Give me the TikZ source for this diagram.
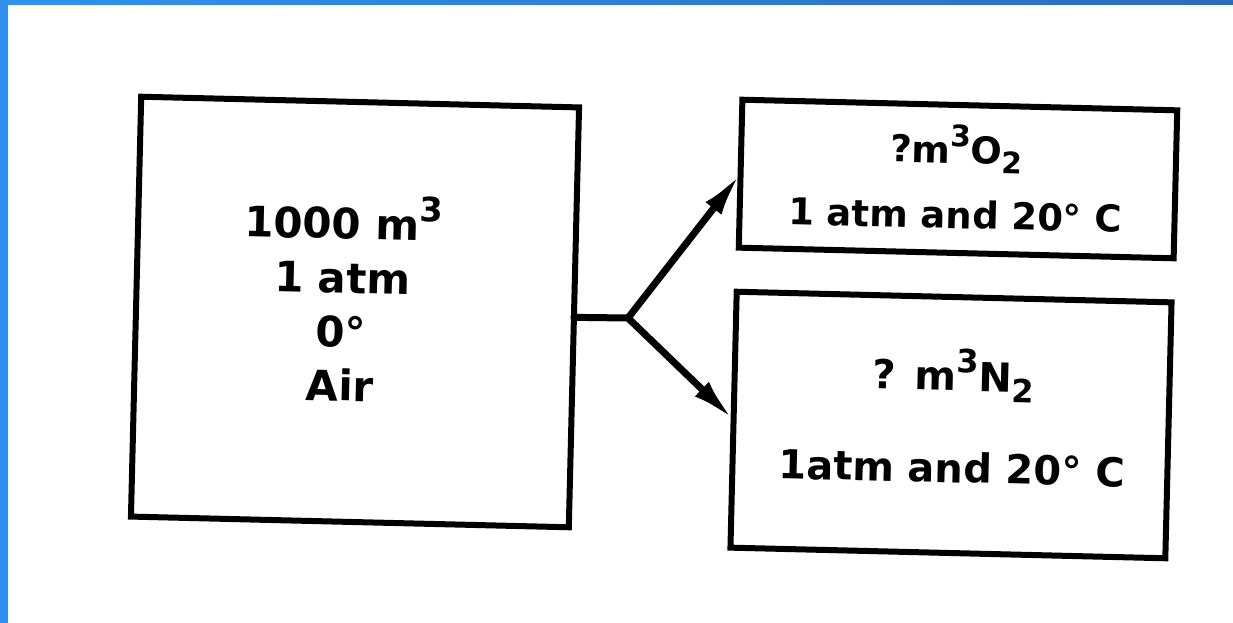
\documentclass[tikz,border=0pt]{standalone}
\usepackage{fontspec}
\setmainfont{DejaVu Sans}
\usepackage{tikz}
\usetikzlibrary{arrows.meta}
\definecolor{framelight}{RGB}{50,145,240}
\definecolor{framedark}{RGB}{42,108,186}
\newcommand{\supx}[1]{\raisebox{0.45em}{\fontsize{0.8em}{1em}\selectfont #1}}
\newcommand{\subx}[1]{\raisebox{-0.25em}{\fontsize{0.8em}{1em}\selectfont #1}}
\tikzset{
  box/.style={rectangle, draw=black, line width=6pt, inner sep=0pt,
    outer sep=0pt, rotate=-1.4},
  airbox/.style={box, minimum width=438pt, minimum height=420pt},
  oxybox/.style={box, minimum width=435pt, minimum height=148pt},
  nitbox/.style={box, minimum width=435pt, minimum height=256pt},
  boxtext/.style={align=center, inner sep=0pt, rotate=-1.4},
  airtext/.style={boxtext, font=\fontsize{42}{54}\bfseries\selectfont},
  oxytext/.style={boxtext, font=\fontsize{37}{65}\bfseries\selectfont},
  nittext/.style={boxtext, font=\fontsize{40}{92}\bfseries\selectfont},
  stub/.style={line width=7pt, line cap=round},
  arrow/.style={-{Latex[length=44pt, width=20pt]}, line width=7pt},
}
\begin{document}
\begin{tikzpicture}[x=1pt, y=-1pt]

  \useasboundingbox (0,0) rectangle (1233,623);

  %% ── frame ───────────────────────────────────────────────────
  \shade[left color=framelight, right color=framedark] (0,0) rectangle (1233,5);
  \fill[framelight] (0,0) rectangle (8,623);

  %% ── feed ────────────────────────────────────────────────────
  \node[airbox] (air) at (355,312) {};
  \node[airtext] (airtxt) at ([shift={(-13,-14)}]air.center)
    {1000 m\supx{3}\\1 atm\\0°\\Air};

  %% ── products ────────────────────────────────────────────────
  \node[oxybox] (oxy) at (958,179) {};
  \node[oxytext] (oxytxt) at ([shift={(-2,-2)}]oxy.center)
    {?m\supx{3}O\subx{2}\\1 atm and 20° C};

  \node[nitbox] (nit) at (951,425) {};
  \node[nittext] (nittxt) at ([shift={(2,-9)}]nit.center)
    {? m\supx{3}N\subx{2}\\1atm and 20° C};

  % split point
  \coordinate (split) at (628,318);

  \draw[stub] (air.east) -- (split);
  \draw[arrow] (split) -- (oxy.west);
  \draw[arrow] (split) -- (nit.west);

\end{tikzpicture}
\end{document}
